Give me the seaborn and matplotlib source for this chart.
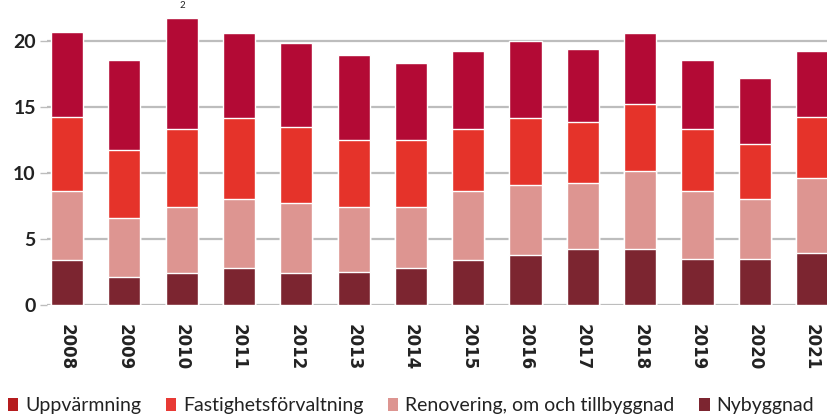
import matplotlib
matplotlib.use("Agg")
import matplotlib.pyplot as plt
import seaborn as sns
import pandas as pd
import numpy as np
from matplotlib.patches import Patch

years = ["2008", "2009", "2010", "2011", "2012", "2013", "2014",
         "2015", "2016", "2017", "2018", "2019", "2020", "2021"]
nybyggnad = [3.4, 2.1, 2.45, 2.8, 2.45, 2.5, 2.8, 3.4, 3.8, 4.25, 4.25, 3.45, 3.45, 3.95]
renovering = [5.2, 4.45, 5.0, 5.25, 5.25, 4.95, 4.65, 5.2, 5.3, 4.95, 5.9, 5.15, 4.6, 5.65]
fastighet = [5.6, 5.2, 5.9, 6.1, 5.75, 5.05, 5.05, 4.75, 5.05, 4.65, 5.05, 4.75, 4.15, 4.65]
uppvarmning = [6.45, 6.8, 8.35, 6.4, 6.4, 6.4, 5.8, 5.9, 5.85, 5.55, 5.4, 5.2, 4.95, 4.95]

labels = ["Uppvärmning", "Fastighetsförvaltning",
          "Renovering, om och tillbyggnad", "Nybyggnad"]
colors = ["#B30A35", "#E5332A", "#DD9591", "#7C2530"]
legend_colors = ["#B51C1E", "#E83A35", "#DD9591", "#7C2530"]

df = pd.DataFrame({"year": years, "Nybyggnad": nybyggnad,
                   "Renovering": renovering, "Fastighet": fastighet,
                   "Uppv": uppvarmning})
df["c1"] = df["Nybyggnad"]
df["c2"] = df["c1"] + df["Renovering"]
df["c3"] = df["c2"] + df["Fastighet"]
df["c4"] = df["c3"] + df["Uppv"]

sns.set_theme(style="white")
plt.rcParams["font.family"] = ["Lato", "DejaVu Sans"]

fig = plt.figure(figsize=(8.27, 4.18), dpi=100)
ax = fig.add_axes([47 / 827, 113 / 418, 780 / 827, 22 * 13.22 / 418])

for col, c in zip(["c4", "c3", "c2", "c1"], colors):
    sns.barplot(data=df, x="year", y=col, color=c, width=0.56,
                saturation=1, ax=ax, zorder=3)

ax.set_xlim(-0.349, 13.26)
ax.set_ylim(0, 22)
ax.set_yticks([0, 5, 10, 15, 20])
ax.yaxis.grid(True, color="#BDBDBD", linewidth=1.6, zorder=0)
ax.set_axisbelow(True)
for s in ax.spines.values():
    s.set_visible(False)
ax.set_xlabel("")
ax.set_ylabel("")
ax.tick_params(axis="y", length=5, width=1, color="#BDBDBD", pad=3,
               labelsize=14, labelcolor="#222222", left=True)
ax.tick_params(axis="x", length=0, pad=14, labelsize=12, labelcolor="#222222")
for t in ax.get_yticklabels():
    t.set_fontweight("bold")
for t in ax.get_xticklabels():
    t.set_rotation(-90)
    t.set_fontfamily("DejaVu Sans")
    t.set_fontweight("bold")
    t.set_va("top")
    t.set_ha("center")

handles = [Patch(facecolor=c, edgecolor="none") for c in legend_colors]
fig.legend(handles, labels, loc="lower left", bbox_to_anchor=(0.0, -0.01),
           ncol=4, frameon=False, fontsize=14, handlelength=0.55,
           handleheight=0.6, handletextpad=0.35, columnspacing=1.25,
           borderaxespad=0.2, borderpad=0.2, labelcolor="#222222")

fig.text(182 / 827, 0.998, "2", ha="center", va="top", fontsize=7,
         color="#222222")

fig.savefig("out.png", dpi=100)
